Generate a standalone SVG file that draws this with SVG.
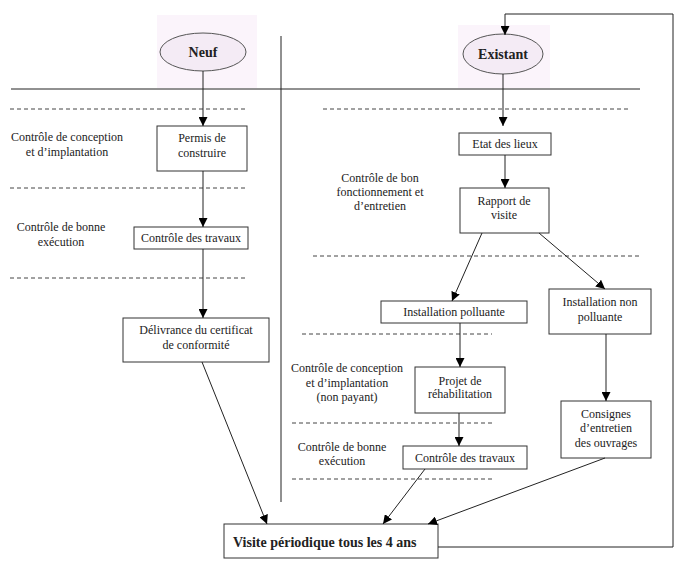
<svg xmlns="http://www.w3.org/2000/svg" width="700" height="565" viewBox="0 0 700 565">
<defs>
<marker id="ah" viewBox="0 0 10 10" refX="10" refY="5" markerWidth="9" markerHeight="9" markerUnits="userSpaceOnUse" orient="auto">
<path d="M0,0 L10,5 L0,10 z" fill="#000"/>
</marker>
<style>
text{font-family:"Liberation Serif","Times New Roman",serif;font-size:12px;fill:#222;text-anchor:middle}
.box{fill:#fff;stroke:#333;stroke-width:1}
.bg{fill:#fbf4fb}
.ell{fill:#f4ebf5;stroke:#555;stroke-width:1}
.title{font-size:14px;font-weight:bold}
.dash{stroke:#444;stroke-width:1;stroke-dasharray:4,3;fill:none}
.solid{stroke:#222;stroke-width:1;fill:none}
.con{stroke:#222;stroke-width:1;fill:none;marker-end:url(#ah)}
.lbl{fill:#222}
</style>
</defs>
<rect width="700" height="565" fill="#fff"/>

<g id="frame">
<line class="solid" x1="11" y1="89" x2="640" y2="89"/>
<line class="solid" x1="281" y1="36" x2="281" y2="502"/>
<line class="dash" x1="10" y1="109" x2="247" y2="109"/>
<line class="dash" x1="10" y1="188" x2="247" y2="188"/>
<line class="dash" x1="10" y1="278" x2="247" y2="278"/>
<line class="dash" x1="323" y1="109" x2="628" y2="109"/>
<line class="dash" x1="313" y1="256" x2="640" y2="256"/>
<line class="dash" x1="302" y1="334" x2="492" y2="334"/>
<line class="dash" x1="292" y1="423" x2="492" y2="423"/>
<line class="dash" x1="292" y1="479" x2="492" y2="479"/>
</g>

<g id="labels">
<text x="67" y="141">Contrôle de conception</text>
<text x="67" y="156">et d’implantation</text>
<text x="61" y="231">Contrôle de bonne</text>
<text x="61" y="246">exécution</text>
<text x="380" y="182">Contrôle de bon</text>
<text x="380" y="196">fonctionnement et</text>
<text x="380" y="210">d’entretien</text>
<text x="347" y="372">Contrôle de conception</text>
<text x="347" y="387">et d’implantation</text>
<text x="347" y="401">(non payant)</text>
<text x="342" y="451">Contrôle de bonne</text>
<text x="342" y="465">exécution</text>
</g>

<g id="neuf">
<rect class="bg" x="157" y="15" width="100" height="73"/>
<ellipse class="ell" cx="203" cy="52" rx="43" ry="19"/>
<text class="title" x="203" y="57">Neuf</text>
</g>

<g id="existant">
<rect class="bg" x="458" y="25" width="92" height="63"/>
<ellipse class="ell" cx="503" cy="54" rx="40" ry="20"/>
<text class="title" x="503" y="59">Existant</text>
</g>

<g id="permis">
<rect class="box" x="157" y="126" width="90" height="45"/>
<text x="202" y="142">Permis de</text>
<text x="202" y="157">construire</text>
</g>

<g id="travaux-neuf">
<rect class="box" x="134" y="227" width="114" height="22"/>
<text x="191" y="242">Contrôle des travaux</text>
</g>

<g id="delivrance">
<rect class="box" x="123" y="318" width="146" height="44"/>
<text x="196" y="334">Délivrance du certificat</text>
<text x="196" y="349">de conformité</text>
</g>

<g id="etat">
<rect class="box" x="459" y="133" width="92" height="22"/>
<text x="505" y="148">Etat des lieux</text>
</g>

<g id="rapport">
<rect class="box" x="460" y="188" width="89" height="45"/>
<text x="504" y="205">Rapport de</text>
<text x="504" y="219">visite</text>
</g>

<g id="polluante">
<rect class="box" x="381" y="301" width="146" height="22"/>
<text x="454" y="316">Installation polluante</text>
</g>

<g id="non-polluante">
<rect class="box" x="549" y="289" width="102" height="45"/>
<text x="600" y="306">Installation non</text>
<text x="600" y="321">polluante</text>
</g>

<g id="projet">
<rect class="box" x="415" y="367" width="90" height="46"/>
<text x="460" y="385">Projet de</text>
<text x="460" y="398">réhabilitation</text>
</g>

<g id="travaux-existant">
<rect class="box" x="403" y="446" width="124" height="23"/>
<text x="465" y="462">Contrôle des travaux</text>
</g>

<g id="consignes">
<rect class="box" x="561" y="401" width="90" height="57"/>
<text x="606" y="418">Consignes</text>
<text x="606" y="432">d’entretien</text>
<text x="606" y="447">des ouvrages</text>
</g>

<g id="visite">
<rect class="box" x="224" y="524" width="214" height="34"/>
<text class="title" x="233" y="547" style="text-anchor:start">Visite périodique tous les 4 ans</text>
</g>

<g id="connectors">
<line class="con" x1="203" y1="71" x2="203" y2="126"/>
<line class="con" x1="203" y1="171" x2="203" y2="227"/>
<line class="con" x1="203" y1="249" x2="203" y2="318"/>
<line class="con" x1="202" y1="362" x2="267" y2="524"/>
<line class="con" x1="503" y1="74" x2="503" y2="126"/>
<line class="con" x1="505" y1="155" x2="505" y2="188"/>
<line class="con" x1="482" y1="233" x2="452" y2="301"/>
<line class="con" x1="539" y1="233" x2="605" y2="289"/>
<line class="con" x1="460" y1="323" x2="460" y2="367"/>
<line class="con" x1="606" y1="334" x2="606" y2="401"/>
<line class="con" x1="459" y1="413" x2="459" y2="446"/>
<line class="con" x1="425" y1="469" x2="383" y2="524"/>
<line class="con" x1="605" y1="458" x2="428" y2="524"/>
<polyline class="con" points="438,547 673,547 673,14 505,14 505,35"/>
</g>
</svg>
